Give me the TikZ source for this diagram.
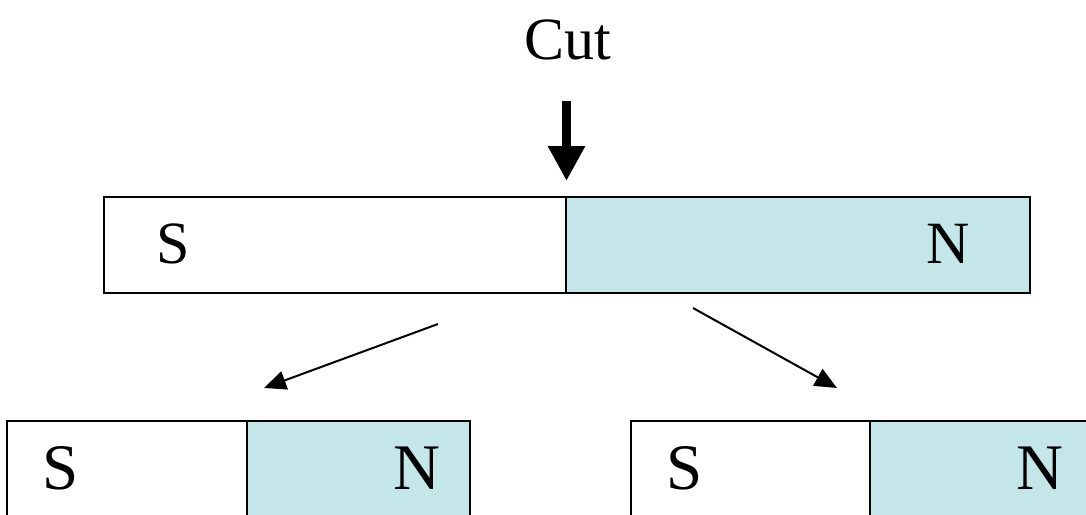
\documentclass[tikz,border=0pt]{standalone}
\usepackage{fontspec}
\setmainfont{Liberation Serif}
\usetikzlibrary{arrows.meta}
\definecolor{nfill}{RGB}{196,230,232}
\begin{document}
\begin{tikzpicture}[x=1pt,y=-1pt,
  half/.style={draw=black,rectangle,inner sep=0pt,outer sep=0pt,anchor=north west},
  bigtxt/.style={inner sep=0pt,font=\fontsize{60}{60}\selectfont},
  boxtxt/.style={inner sep=0pt,font=\fontsize{65}{65}\selectfont},
  thinarrow/.style={line width=2pt,-{Triangle[length=22pt,width=19pt]}},
  cutarrow/.style={line width=9pt,-{Triangle[length=35pt,width=35pt]}}]
\useasboundingbox (0,0) rectangle (1086,514);
\clip (0,0) rectangle (1086,514);
% top magnet
\node[half,line width=2.5pt,fill=white,minimum width=462pt,minimum height=96pt] (topS) at (104,197) {};
\node[half,line width=2.5pt,fill=nfill,minimum width=464pt,minimum height=96pt] (topN) at (566,197) {};
\node[bigtxt,anchor=base west] (tS) at (156,263) {S};
\node[bigtxt,anchor=base east] (tN) at (970,263) {N};
% cut label and arrow
\node[bigtxt,anchor=base] (cut) at (568,59) {Cut};
\coordinate (cutstart) at (566.5,101);
\coordinate (cutend) at (566.5,181);
\draw[cutarrow] (cutstart) -- (cutend);
% bottom left magnet
\node[half,line width=1.8pt,fill=white,minimum width=240pt,minimum height=130pt] (blS) at (7,421) {};
\node[half,line width=1.8pt,fill=nfill,minimum width=223pt,minimum height=130pt] (blN) at (247,421) {};
\node[boxtxt,anchor=base west] (bS1) at (42,489) {S};
\node[boxtxt,anchor=base east] (bN1) at (441,489) {N};
% bottom right magnet
\node[half,line width=1.8pt,fill=white,minimum width=239pt,minimum height=130pt] (brS) at (631,421) {};
\node[half,line width=1.8pt,fill=nfill,minimum width=223pt,minimum height=130pt] (brN) at (870,421) {};
\node[boxtxt,anchor=base west] (bS2) at (666,489) {S};
\node[boxtxt,anchor=base east] (bN2) at (1064,489) {N};
% split arrows
\coordinate (la) at (438,324);
\coordinate (lb) at (264,388);
\coordinate (ra) at (693,308);
\coordinate (rb) at (837,388);
\draw[thinarrow] (la) -- (lb);
\draw[thinarrow] (ra) -- (rb);
\end{tikzpicture}
\end{document}
